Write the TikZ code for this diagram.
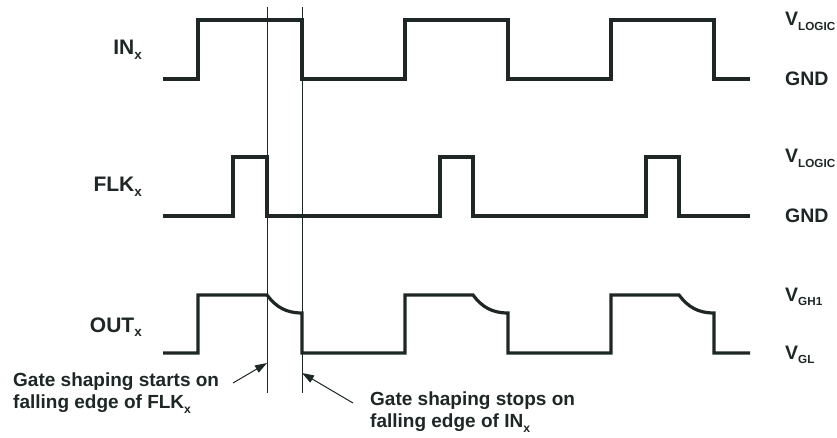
\documentclass[tikz,border=0pt]{standalone}
\usepackage{fontspec}
\setmainfont{Liberation Sans}
\usetikzlibrary{arrows.meta, positioning}
\definecolor{ink}{RGB}{30,38,38}
\newcommand{\lo}[2][0.64]{\raisebox{-0.22em}{\scalebox{#1}{#2}}}

\begin{document}
\begin{tikzpicture}[x=1pt, y=-1pt,
		every node/.style={inner sep=0pt, text=ink, font=\bfseries},
		wave/.style={draw=ink, line width=3.2pt, line join=miter},
		marker/.style={draw=ink, line width=0.8pt},
		sig/.style={anchor=base east, font=\bfseries\fontsize{21}{24}\selectfont},
		lvl/.style={anchor=base west, font=\bfseries\fontsize{19.5}{22}\selectfont},
		note/.style={anchor=north west, align=left, font=\bfseries\fontsize{19}{22}\selectfont},
		pointer/.style={draw=ink, line width=1pt, -{Triangle[length=12pt, width=8pt]}}]
	\useasboundingbox (0,0) rectangle (837,438);

	% signal names
	\node (in) [sig] at (142,55) {IN\lo{x}};
	\node (flk) [sig] at (142,192) {FLK\lo{x}};
	\node (out) [sig] at (142,332) {OUT\lo{x}};

	% levels
	\node (vlogic1) [lvl] at (785,26) {V\lo[0.6]{LOGIC}};
	\node (gnd1) [lvl] at (785,86) {GND};
	\node (vlogic2) [lvl] at (785,163) {V\lo[0.6]{LOGIC}};
	\node (gnd2) [lvl] at (785,223) {GND};
	\node (vgh) [lvl] at (785,301) {V\lo[0.6]{GH1}};
	\node (vgl) [lvl] at (785,359) {V\lo[0.6]{GL}};

	% waveforms
	\draw [wave] (163,79) -| (198,20) -| (302,79) -| (405,20) -| (508,79)
		-| (611,20) -| (714,79) -- (750,79);
	\draw [wave] (163,216) -| (233,157) -| (267,216) -| (440,157) -| (473,216)
		-| (646,157) -| (679,216) -- (750,216);
	\draw [wave] (163,353) -| (198,295) -- (267,295)
		.. controls (276,307) and (286,313) .. (302,313) -- (302,353)
		-| (405,295) -- (473,295)
		.. controls (482,307) and (492,313) .. (508,313) -- (508,353)
		-| (611,295) -- (679,295)
		.. controls (688,307) and (698,313) .. (714,313) -- (714,353) -- (750,353);

	% gate shaping window
	\coordinate (ontop) at (267,7);
	\coordinate (onbot) at (267,393);
	\coordinate (offtop) at (302,7);
	\coordinate (offbot) at (302,393);
	\draw [marker] (ontop) -- (onbot);
	\draw [marker] (offtop) -- (offbot);

	\node (startnote) [note] at (13,373) {Gate shaping starts on\\falling edge of FLK\lo{x}};
	\node (stopnote) [note] at (370,392) {Gate shaping stops on\\falling edge of IN\lo{x}};
	\coordinate (ontail) at (233,383);
	\coordinate (onhit) at (267,363);
	\coordinate (offtail) at (353,403);
	\coordinate (offhit) at (302,373);
	\draw [pointer] (ontail) -- (onhit);
	\draw [pointer] (offtail) -- (offhit);
\end{tikzpicture}
\end{document}
